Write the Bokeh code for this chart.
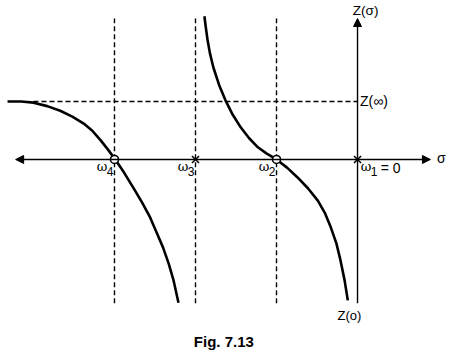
from bokeh.plotting import figure
from bokeh.models import Range1d, Arrow, NormalHead
from bokeh.core.properties import value
from bokeh.embed import file_html
from bokeh.resources import INLINE

# ---- data (σ in units of the pole/zero spacing, Z normalised to Z(∞)=1) ----
omega_names = ["ω4", "ω3", "ω2", "ω1"]
omega_sigma = [-3.0, -2.0, -1.0, 0.0]
zeros_sigma = [-3.0, -1.0]          # ω4, ω2 (circles)
poles_sigma = [-2.0, 0.0]           # ω3, ω1 (crosses)
z_inf = 1.0

curve1_sigma = [-4.32, -4.15, -4.0, -3.83, -3.67, -3.52, -3.38, -3.27, -3.17, -3.08, -2.99,
                -2.88, -2.77, -2.66, -2.56, -2.48, -2.40, -2.33, -2.27, -2.21]
curve1_z = [1.0, 1.0, 0.98, 0.92, 0.84, 0.74, 0.62, 0.49, 0.33, 0.17, 0.0,
            -0.23, -0.48, -0.74, -1.0, -1.26, -1.52, -1.80, -2.09, -2.47]

curve2_sigma = [-1.89, -1.87, -1.85, -1.82, -1.78, -1.71, -1.63, -1.54, -1.44, -1.34, -1.23,
                -1.12, -1.0, -0.87, -0.74, -0.61, -0.49, -0.40, -0.33, -0.26, -0.21, -0.16, -0.12]
curve2_z = [2.47, 2.25, 2.05, 1.82, 1.59, 1.29, 1.02, 0.77, 0.55, 0.37, 0.21,
            0.10, 0.0, -0.14, -0.31, -0.50, -0.71, -0.93, -1.17, -1.45, -1.74, -2.08, -2.43]

# ---- figure ----
X0, X1 = -4.407, 1.160
Y0, Y1 = -3.328, 2.741
p = figure(width=451, height=352, output_backend="svg", toolbar_location=None,
           x_range=Range1d(X0, X1), y_range=Range1d(Y0, Y1),
           min_border=0, min_border_left=0, min_border_right=0,
           min_border_top=0, min_border_bottom=0)
p.axis.visible = False
p.grid.visible = False
p.outline_line_color = None
p.background_fill_color = "white"
p.border_fill_color = "white"

top = 2.43
bottom = -2.48
left_end = -4.32
right_end = 0.90

# dashed verticals at ω4, ω3, ω2
dash_x = omega_sigma[:3]
p.segment(x0=dash_x, y0=[bottom] * 3, x1=dash_x, y1=[top] * 3,
          line_color="black", line_width=1.4, line_dash="5 3")
# dashed Z(∞) level
p.segment(x0=[-4.0], y0=[z_inf], x1=[0.0], y1=[z_inf],
          line_color="black", line_width=1.3, line_dash="5 3")

# axes with arrows
p.add_layout(Arrow(x_start=left_end + 0.1, y_start=0, x_end=right_end, y_end=0,
                   line_width=1.4, line_color="black",
                   end=NormalHead(size=8, fill_color="black", line_color="black"),
                   start=NormalHead(size=8, fill_color="black", line_color="black")))
p.add_layout(Arrow(x_start=0, y_start=bottom, x_end=0, y_end=top,
                   line_width=1.4, line_color="black",
                   end=NormalHead(size=8, fill_color="black", line_color="black")))

# curves
p.line(curve1_sigma, curve1_z, line_color="black", line_width=2.6)
p.line(curve2_sigma, curve2_z, line_color="black", line_width=2.6)

# zeros and poles
p.scatter(zeros_sigma, [0, 0], marker="circle", size=8, fill_color="white",
          line_color="black", line_width=1.6)
p.scatter(poles_sigma, [0, 0], marker="x", size=10, line_color="black", line_width=1.5)

font = value("Liberation Sans")
# ω labels (base + subscript)
for name, s in zip(omega_names, omega_sigma):
    if s == 0.0:
        bx = s + 0.04
    else:
        bx = s - 0.22
    p.text(x=[bx], y=[0], text=["ω"], text_font=value("DejaVu Serif"), text_font_size="13px",
           text_baseline="middle", text_align="left", y_offset=7)
    p.text(x=[bx], y=[0], text=[name[1]], text_font=font, text_font_size="12px",
           text_baseline="middle", text_align="left", x_offset=10, y_offset=12)
    if s == 0.0:
        p.text(x=[bx], y=[0], text=["= 0"], text_font=font, text_font_size="14px",
               text_baseline="middle", text_align="left", x_offset=20, y_offset=9)

p.text(x=[0.1], y=[2.56], text=["Z(σ)"], text_font=font, text_font_size="13.5px",
       text_baseline="middle", text_align="center")
p.text(x=[0.03], y=[z_inf], text=["Z(∞)"], text_font=font, text_font_size="14px",
       text_baseline="middle", text_align="left")
p.text(x=[0.98], y=[0.03], text=["σ"], text_font=font, text_font_size="14px",
       text_baseline="middle", text_align="left")
p.text(x=[-0.1], y=[-2.69], text=["Z(o)"], text_font=font, text_font_size="13px",
       text_baseline="middle", text_align="center")
p.text(x=[-1.65], y=[-3.14], text=["Fig. 7.13"], text_font=font, text_font_size="15px",
       text_font_style="bold", text_baseline="middle", text_align="center")

open("out.html", "w").write(file_html(p, INLINE))
